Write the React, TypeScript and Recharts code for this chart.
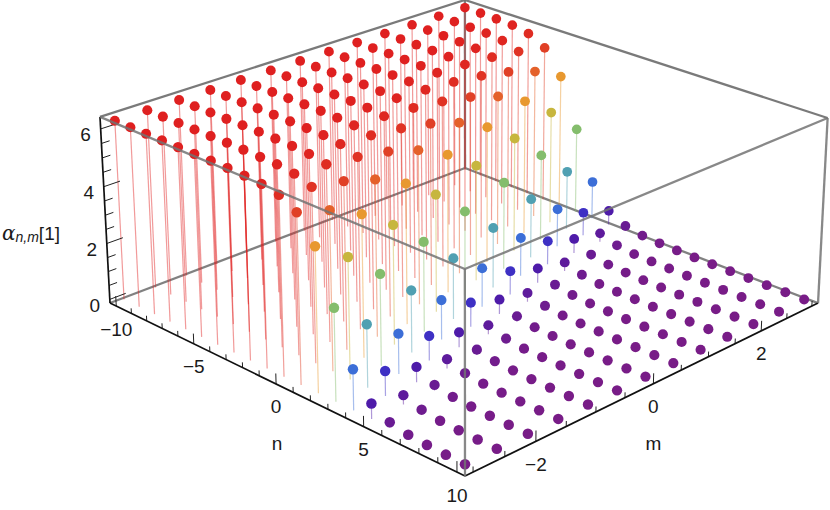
import React from "react";
import { ScatterChart, Scatter, XAxis, YAxis } from "recharts";

const W = 830;
const H = 510;

// Axes
const nValues = [-10, -9, -8, -7, -6, -5, -4, -3, -2, -1, 0, 1, 2, 3, 4, 5, 6, 7, 8, 9, 10];
const mValues = [-3, -2.5, -2, -1.5, -1, -0.5, 0, 0.5, 1, 1.5, 2, 2.5, 3];
const nTicks = nValues;
const nMajor = [-10, -5, 0, 5, 10];
const mTicks = mValues;
const mMajor = [-2, 0, 2];
const zTicks = [0, 0.5, 1, 1.5, 2, 2.5, 3, 3.5, 4, 4.5, 5, 5.5, 6];
const zMajor = [0, 2, 4, 6];

// alpha values, one row per m, one entry per n
const rowM30 = [6.28, 6.28, 6.28, 6.28, 6.28, 6.28, 6.28, 6.27, 6.25, 6.21, 6.09, 5.76, 4.9, 3.14, 1.38, 0.52, 0.19, 0.07, 0.03, 0.01, 0];
const rowM25 = [6.28, 6.28, 6.28, 6.28, 6.28, 6.28, 6.27, 6.26, 6.24, 6.16, 5.96, 5.43, 4.13, 2.15, 0.85, 0.32, 0.12, 0.04, 0.02, 0.01, 0];
const rowM20 = [6.28, 6.28, 6.28, 6.28, 6.28, 6.28, 6.27, 6.25, 6.21, 6.09, 5.76, 4.9, 3.14, 1.38, 0.52, 0.19, 0.07, 0.03, 0.01, 0, 0];
const rowM15 = [6.28, 6.28, 6.28, 6.28, 6.28, 6.27, 6.26, 6.24, 6.16, 5.96, 5.43, 4.13, 2.15, 0.85, 0.32, 0.12, 0.04, 0.02, 0.01, 0, 0];
const rowM10 = [6.28, 6.28, 6.28, 6.28, 6.28, 6.27, 6.25, 6.21, 6.09, 5.76, 4.9, 3.14, 1.38, 0.52, 0.19, 0.07, 0.03, 0.01, 0, 0, 0];
const rowM05 = [6.28, 6.28, 6.28, 6.28, 6.27, 6.26, 6.24, 6.16, 5.96, 5.43, 4.13, 2.15, 0.85, 0.32, 0.12, 0.04, 0.02, 0.01, 0, 0, 0];
const rowP00 = [6.28, 6.28, 6.28, 6.28, 6.27, 6.25, 6.21, 6.09, 5.76, 4.9, 3.14, 1.38, 0.52, 0.19, 0.07, 0.03, 0.01, 0, 0, 0, 0];
const rowP05 = [6.28, 6.28, 6.28, 6.27, 6.26, 6.24, 6.16, 5.96, 5.43, 4.13, 2.15, 0.85, 0.32, 0.12, 0.04, 0.02, 0.01, 0, 0, 0, 0];
const rowP10 = [6.28, 6.28, 6.28, 6.27, 6.25, 6.21, 6.09, 5.76, 4.9, 3.14, 1.38, 0.52, 0.19, 0.07, 0.03, 0.01, 0, 0, 0, 0, 0];
const rowP15 = [6.28, 6.28, 6.27, 6.26, 6.24, 6.16, 5.96, 5.43, 4.13, 2.15, 0.85, 0.32, 0.12, 0.04, 0.02, 0.01, 0, 0, 0, 0, 0];
const rowP20 = [6.28, 6.28, 6.27, 6.25, 6.21, 6.09, 5.76, 4.9, 3.14, 1.38, 0.52, 0.19, 0.07, 0.03, 0.01, 0, 0, 0, 0, 0, 0];
const rowP25 = [6.28, 6.27, 6.26, 6.24, 6.16, 5.96, 5.43, 4.13, 2.15, 0.85, 0.32, 0.12, 0.04, 0.02, 0.01, 0, 0, 0, 0, 0, 0];
const rowP30 = [6.28, 6.27, 6.25, 6.21, 6.09, 5.76, 4.9, 3.14, 1.38, 0.52, 0.19, 0.07, 0.03, 0.01, 0, 0, 0, 0, 0, 0, 0];
const rows = [rowM30, rowM25, rowM20, rowM15, rowM10, rowM05, rowP00, rowP05, rowP10, rowP15, rowP20, rowP25, rowP30];

// Colour ramp (share of the z range, colour)
const rampAt = [0, 0.08, 0.135, 0.215, 0.335, 0.5, 0.65, 0.78, 0.865, 0.92, 1];
const rampColor = ["#781C87", "#4F1AA8", "#3E30C4", "#3B6CD8", "#4E9FB5", "#84BD6C", "#C5B83F", "#E8982F", "#E4602A", "#E03E26", "#DF2020"];

const Z_MAX = 6.283;
const PAD = 0.02;

const hex = (c: string) => [1, 3, 5].map((i) => parseInt(c.slice(i, i + 2), 16));
function colorOf(z: number) {
  const t = Math.min(1, Math.max(0, z / Z_MAX));
  let i = 0;
  while (i < rampAt.length - 2 && t > rampAt[i + 1]) i++;
  const f = (t - rampAt[i]) / (rampAt[i + 1] - rampAt[i]);
  const a = hex(rampColor[i]);
  const b = hex(rampColor[i + 1]);
  return `rgb(${a.map((v, k) => Math.round(v + (b[k] - v) * f)).join(",")})`;
}

// Perspective view of the unit box
function depth(u: number, v: number, w: number) {
  return 1 - 0.1209 * u + 0.1266 * v - 0.027 * w;
}
function view(u: number, v: number, w: number) {
  const d = depth(u, v, w);
  return {
    x: (298.8 * u + 413.9 * v - 12.7 * w + 110) / d,
    y: (115.5 * u - 113.7 * v - 189.3 * w + 303) / d,
  };
}
const uOf = (n: number) => PAD + ((1 - 2 * PAD) * (n + 10)) / 20;
const vOf = (m: number) => PAD + ((1 - 2 * PAD) * (m + 3)) / 6;
const wOf = (z: number) => PAD + ((1 - 2 * PAD) * z) / Z_MAX;

type Seg = { a: any; b: any; stroke: string; width: number; opacity: number };

const grey = "#737373";
const box = (a: number[], b: number[], stroke: string, width: number, opacity = 1): Seg => ({
  a: view(a[0], a[1], a[2]),
  b: view(b[0], b[1], b[2]),
  stroke,
  width,
  opacity,
});

const backEdges: Seg[] = [
  box([0, 0, 0], [0, 1, 0], grey, 2.3, 0.9),
  box([0, 1, 0], [1, 1, 0], grey, 2.3, 0.9),
  box([0, 1, 0], [0, 1, 1], grey, 2.3, 0.9),
  box([0, 0, 1], [0, 1, 1], grey, 2.3, 0.95),
  box([0, 1, 1], [1, 1, 1], grey, 2.3, 0.95),
];
const frontEdges: Seg[] = [
  box([0, 0, 1], [1, 0, 1], grey, 2.3, 0.85),
  box([1, 0, 1], [1, 1, 1], grey, 2.3, 0.85),
  box([1, 0, 0], [1, 0, 1], grey, 2.3, 0.85),
  box([1, 1, 0], [1, 1, 1], grey, 2.3, 0.85),
];
const axisEdges: Seg[] = [
  box([0, 0, 0], [1, 0, 0], "#111", 1.7),
  box([1, 0, 0], [1, 1, 0], "#111", 1.7),
  box([0, 0, 0], [0, 0, 1], "#111", 1.7),
];
const tickSegs: Seg[] = [
  ...nTicks.map((n) => box([uOf(n), 0, 0], [uOf(n), 0, nMajor.includes(n) ? 0.055 : 0.028], "#222", 1)),
  ...mTicks.map((m) => box([1, vOf(m), 0], [1, vOf(m), mMajor.includes(m) ? 0.055 : 0.028], "#222", 1)),
  ...zTicks.map((z) => box([0, 0, wOf(z)], [0, zMajor.includes(z) ? 0.04 : 0.02, wOf(z)], "#222", 1)),
];

type Pt = { x: number; y: number; z: number; d: number; r: number; fill: string; fx: number; fy: number };
const points: Pt[] = [];
rows.forEach((row, j) => {
  row.forEach((z, i) => {
    const u = uOf(nValues[i]);
    const v = vOf(mValues[j]);
    const w = wOf(z);
    const p = view(u, v, w);
    const f = view(u, v, wOf(0));
    const d = depth(u, v, w);
    points.push({ x: p.x, y: p.y, z, d, r: 5.0 / Math.sqrt(d), fill: colorOf(z), fx: f.x, fy: f.y });
  });
});
points.sort((a, b) => b.d - a.d);
const stems = points.filter((p) => p.z > 0.02);

type Lab = { x: number; y: number; text: string };
const shift = (p: { x: number; y: number }, dx: number, dy: number) => ({ x: p.x + dx, y: p.y + dy });
const labels: Lab[] = [
  ...nMajor.map((n) => ({ ...shift(view(uOf(n), 0, 0), 0, 23), text: String(n).replace("-", "\u2212") })),
  ...mMajor.map((m) => ({ ...shift(view(1, vOf(m), 0), 0, 23), text: String(m).replace("-", "\u2212") })),
  ...zMajor.map((z) => ({ ...shift(view(0, 0, wOf(z)), -15, 6), text: String(z) })),
  { ...shift(view(uOf(0), 0, 0), 1, 60), text: "n" },
  { ...shift(view(1, vOf(0), 0), 0, 60), text: "m" },
];
const titleAnchor = [{ ...shift(view(0, 0, 0.5), -110, 22) }];

const Nil = () => null;
const Dot = (p: any) => <circle cx={p.cx} cy={p.cy} r={p.payload.r} fill={p.payload.fill} />;
const Label = (p: any) => (
  <text x={p.cx} y={p.cy} textAnchor="middle" dominantBaseline="central" fontFamily="Liberation Sans" fontSize={19} fill="#1a1a1a">
    {p.payload.text}
  </text>
);
const Title = (p: any) => (
  <text x={2} y={p.cy} dominantBaseline="central" fontFamily="Liberation Sans" fontSize={19} fill="#1a1a1a">
    <tspan fontFamily="DejaVu Serif" fontStyle="italic" fontSize={20}>{"\u03B1"}</tspan>
    <tspan fontSize={14} fontStyle="italic" dy={4}>n,m</tspan>
    <tspan dy={-4}>[1]</tspan>
  </text>
);

const drawSeg = (s: Seg, key: string) => (
  <Scatter
    key={key}
    data={[s.a, s.b]}
    dataKey="y"
    isAnimationActive={false}
    shape={Nil}
    line={{ stroke: s.stroke, strokeWidth: s.width, strokeOpacity: s.opacity }}
  />
);

export default function App() {
  return (
    <div style={{ position: "absolute", left: 0, top: 0, width: W, height: H, background: "#fff" }}>
      <ScatterChart width={W} height={H} margin={{ top: 0, right: 0, bottom: 0, left: 0 }}>
        <XAxis type="number" dataKey="x" domain={[0, W]} hide allowDataOverflow />
        <YAxis type="number" dataKey="y" domain={[0, H]} reversed hide allowDataOverflow />
        {backEdges.map((s, i) => drawSeg(s, `back${i}`))}
        {stems.map((p, i) =>
          drawSeg({ a: { x: p.x, y: p.y }, b: { x: p.fx, y: p.fy }, stroke: p.fill, width: 1.2, opacity: 0.45 }, `stem${i}`)
        )}
        {tickSegs.map((s, i) => drawSeg(s, `tick${i}`))}
        {axisEdges.map((s, i) => drawSeg(s, `axis${i}`))}
        <Scatter data={points} dataKey="y" isAnimationActive={false} shape={Dot} />
        {frontEdges.map((s, i) => drawSeg(s, `front${i}`))}
        <Scatter data={labels} dataKey="y" isAnimationActive={false} shape={Label} />
        <Scatter data={titleAnchor} dataKey="y" isAnimationActive={false} shape={Title} />
      </ScatterChart>
    </div>
  );
}
